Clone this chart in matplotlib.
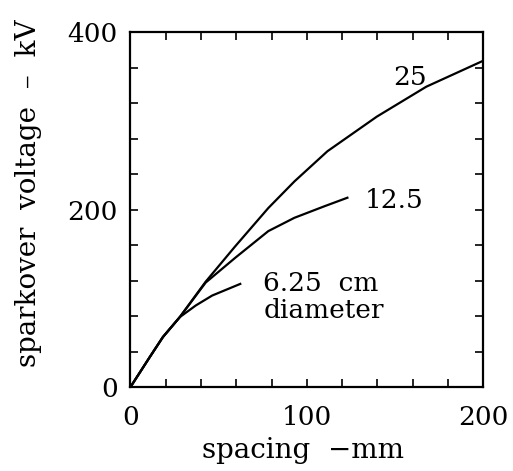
import matplotlib
matplotlib.use("Agg")
import matplotlib.pyplot as plt
from matplotlib.ticker import FuncFormatter, MultipleLocator

# Data
x25 = [0, 11, 18.5, 28, 42.7, 59.5, 78.2, 93, 111.7, 139.7, 167.7, 200]
y25 = [0, 34, 56.7, 79, 119, 159, 202, 232, 266, 305, 338.7, 368]
x12 = [0, 11, 18.5, 28, 42.7, 59.5, 78.2, 93, 110, 123]
y12 = [0, 34, 56.7, 79, 118, 146, 176, 191, 204, 213.6]
x6 = [0, 11, 18.5, 28, 37.1, 46.4, 62.3]
y6 = [0, 34, 56.7, 79, 92.2, 103.4, 116.5]
labels = ["25", "12.5", "6.25  cm", "diameter"]

plt.rcParams['font.family'] = ['DejaVu Serif']
FS = 19
fig = plt.figure(figsize=(5.13, 4.71), dpi=100)
ax = fig.add_axes([130.3 / 513, 1 - 387.3 / 471, 353 / 513, 355 / 471])
for xs, ys in [(x25, y25), (x12, y12), (x6, y6)]:
    ax.plot(xs, ys, color='black', lw=1.6, solid_joinstyle='round')
ax.set_xlim(0, 200)
ax.set_ylim(0, 400)
ax.xaxis.set_major_locator(MultipleLocator(20))
ax.yaxis.set_major_locator(MultipleLocator(40))
ax.xaxis.set_major_formatter(FuncFormatter(lambda v, p: f"{int(v)}" if abs(v % 100) < 1e-6 else ""))
ax.yaxis.set_major_formatter(FuncFormatter(lambda v, p: f"{int(v)}" if abs(v % 200) < 1e-6 else ""))
ax.tick_params(direction='in', length=6, width=1.2, top=True, right=True, labelsize=FS)
ax.tick_params(axis='x', pad=13)
ax.tick_params(axis='y', pad=9)
for s in ax.spines.values():
    s.set_linewidth(1.6)

ax.text(149, 341, labels[0], fontsize=FS, ha='left', va='baseline')
ax.text(133, 202, labels[1], fontsize=FS, ha='left', va='baseline')
ax.text(75.4, 109, labels[2], fontsize=FS, ha='left', va='baseline')
ax.text(75.4, 77.6, labels[3], fontsize=FS, ha='left', va='baseline')

fig.text(201.7 / 513, 1 - 458 / 471, "spacing  \u2212mm", fontsize=20, ha='left', va='baseline')
fig.text(29 / 513, 1 - 193 / 471, "sparkover  voltage  \u2013  kV", fontsize=20,
         ha='center', va='center', rotation=90)
fig.savefig("out.png", dpi=100)
